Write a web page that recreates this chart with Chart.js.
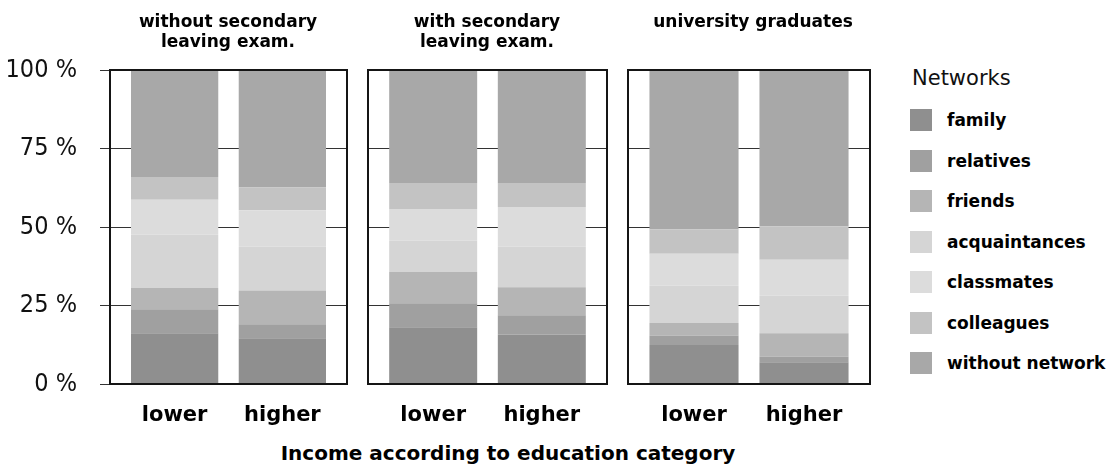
<!DOCTYPE html>
<html>
<head>
<meta charset="utf-8">
<script src="https://cdn.jsdelivr.net/npm/chart.js@4/dist/chart.umd.min.js"></script>
<style>
  html, body { margin: 0; padding: 0; background: #fff; }
  #wrap { position: relative; width: 1114px; height: 471px; overflow: hidden; font-family: "DejaVu Sans", sans-serif; }
  canvas { position: absolute; top: 0; }
  .ptitle { position: absolute; top: 11px; width: 260px; text-align: center; font-weight: bold; font-size: 17px; line-height: 20px; color: #000; }
  #axtitle { position: absolute; top: 441px; left: 128px; width: 760px; text-align: center; font-weight: bold; font-size: 20px; line-height: 24px; color: #000; }
  #legend { position: absolute; left: 910px; top: 0; width: 204px; height: 400px; }
  #legend .lt { position: absolute; left: 2px; top: 66px; font-size: 21px; line-height: 24px; color: #111; white-space: nowrap; }
  #legend .li { position: absolute; left: 0; height: 22px; }
  #legend .sw { position: absolute; left: 0; top: 0; width: 22px; height: 22px; }
  #legend .lb { position: absolute; left: 37px; top: 0; white-space: nowrap; font-weight: bold; font-size: 17px; line-height: 22px; color: #000; }
</style>
</head>
<body>
<div id="wrap">
  <canvas id="c0" width="360" height="440" style="left:0px"></canvas>
  <canvas id="c1" width="265" height="440" style="left:355px"></canvas>
  <canvas id="c2" width="270" height="440" style="left:615px"></canvas>
  <div id="t0" class="ptitle" style="left:98px"></div>
  <div id="t1" class="ptitle" style="left:357px"></div>
  <div id="t2" class="ptitle" style="left:623px"></div>
  <div id="axtitle"></div>
  <div id="legend"></div>
</div>
<script>
// ---- data ----
const categories = ['lower', 'higher'];
const panelTitles = [['without secondary', 'leaving exam.'], ['with secondary', 'leaving exam.'], ['university graduates']];
const xAxisTitle = 'Income according to education category';
const legendTitle = 'Networks';
const seriesNames = ['family', 'relatives', 'friends', 'acquaintances', 'classmates', 'colleagues', 'without network'];
const seriesColors = ['#8f8f8f', '#a0a0a0', '#b5b5b5', '#d5d5d5', '#dcdcdc', '#c3c3c3', '#a8a8a8'];
const yTickValues = [0, 25, 50, 75, 100];
const yTickLabels = ['0 %', '25 %', '50 %', '75 %', '100 %'];

// values per panel: [lower, higher] for each series (percent)
const withoutExamFamily        = [16.2, 14.6];
const withoutExamRelatives     = [7.6, 4.4];
const withoutExamFriends       = [6.8, 10.8];
const withoutExamAcquaintances = [17.0, 14.0];
const withoutExamClassmates    = [11.1, 11.5];
const withoutExamColleagues    = [7.2, 7.3];
const withoutExamNoNetwork     = [34.1, 37.4];

const withExamFamily        = [18.1, 15.8];
const withExamRelatives     = [7.6, 6.1];
const withExamFriends       = [10.0, 8.9];
const withExamAcquaintances = [10.0, 13.0];
const withExamClassmates    = [10.0, 12.6];
const withExamColleagues    = [8.3, 7.6];
const withExamNoNetwork     = [36.0, 36.0];

const uniFamily        = [12.4, 6.9];
const uniRelatives     = [3.0, 1.8];
const uniFriends       = [4.0, 7.5];
const uniAcquaintances = [12.0, 12.0];
const uniClassmates    = [10.1, 11.4];
const uniColleagues    = [7.8, 10.6];
const uniNoNetwork     = [50.7, 49.8];

const panels = [
  [withoutExamFamily, withoutExamRelatives, withoutExamFriends, withoutExamAcquaintances, withoutExamClassmates, withoutExamColleagues, withoutExamNoNetwork],
  [withExamFamily, withExamRelatives, withExamFriends, withExamAcquaintances, withExamClassmates, withExamColleagues, withExamNoNetwork],
  [uniFamily, uniRelatives, uniFriends, uniAcquaintances, uniClassmates, uniColleagues, uniNoNetwork]
];

// ---- text ----
panelTitles.forEach((lines, i) => {
  const el = document.getElementById('t' + i);
  lines.forEach((s, k) => {
    if (k) el.appendChild(document.createElement('br'));
    el.appendChild(document.createTextNode(s));
  });
});
document.getElementById('axtitle').textContent = xAxisTitle;
const lg = document.getElementById('legend');
const lt = document.createElement('div'); lt.className = 'lt'; lt.textContent = legendTitle; lg.appendChild(lt);
seriesNames.forEach((name, i) => {
  const it = document.createElement('div'); it.className = 'li'; it.style.top = (109 + i * 40.5) + 'px';
  const sw = document.createElement('div'); sw.className = 'sw'; sw.style.background = seriesColors[i];
  const lb = document.createElement('div'); lb.className = 'lb'; lb.textContent = name;
  it.appendChild(sw); it.appendChild(lb); lg.appendChild(it);
});

// ---- charts ----
const framePlugin = {
  id: 'frame',
  afterDatasetsDraw(chart) {
    const a = chart.chartArea, ctx = chart.ctx;
    ctx.save();
    ctx.strokeStyle = '#151515';
    ctx.lineWidth = 2;
    ctx.strokeRect(a.left, a.top, a.right - a.left, a.bottom - a.top);
    ctx.restore();
  }
};

const layouts = [
  { yWidth: 110, padRight: 13, showY: true },
  { yWidth: 13, padRight: 13, showY: false },
  { yWidth: 13, padRight: 15, showY: false }
];

panels.forEach((series, p) => {
  const L = layouts[p];
  new Chart(document.getElementById('c' + p), {
    type: 'bar',
    data: {
      labels: categories.map((_, i) => i),
      datasets: series.map((vals, s) => ({
        label: seriesNames[s],
        data: vals,
        backgroundColor: seriesColors[s],
        borderWidth: 0,
        barPercentage: 0.81,
        categoryPercentage: 1.0
      }))
    },
    options: {
      responsive: false,
      devicePixelRatio: 1,
      animation: false,
      layout: { padding: { top: 70, right: L.padRight, left: 0, bottom: 0 } },
      plugins: { legend: { display: false }, tooltip: { enabled: false }, title: { display: false } },
      scales: {
        x: {
          type: 'linear',
          stacked: true,
          offset: false,
          min: -0.6,
          max: 1.6,
          afterBuildTicks: axis => { axis.ticks = categories.map((_, i) => ({ value: i })); },
          afterFit: axis => { axis.height = 56; },
          grid: { display: false, drawTicks: false },
          border: { display: false },
          ticks: {
            autoSkip: false,
            maxRotation: 0,
            padding: 19,
            color: '#000',
            font: { family: 'DejaVu Sans', weight: 'bold', size: 21 },
            callback: v => categories[v]
          }
        },
        y: {
          stacked: true,
          min: 0,
          max: 100,
          afterBuildTicks: axis => { axis.ticks = yTickValues.map(v => ({ value: v })); },
          afterFit: axis => { axis.width = L.yWidth; },
          grid: {
            color: '#333',
            lineWidth: 1,
            drawTicks: L.showY,
            tickLength: L.showY ? 10 : 0
          },
          border: { display: false },
          ticks: {
            display: L.showY,
            padding: 23,
            color: '#111',
            font: { family: "'Liberation Sans Narrow', 'DejaVu Sans Condensed', sans-serif", size: 25 },
            callback: (v) => yTickLabels[yTickValues.indexOf(v)]
          }
        }
      }
    },
    plugins: [framePlugin]
  });
});
</script>
</body>
</html>
